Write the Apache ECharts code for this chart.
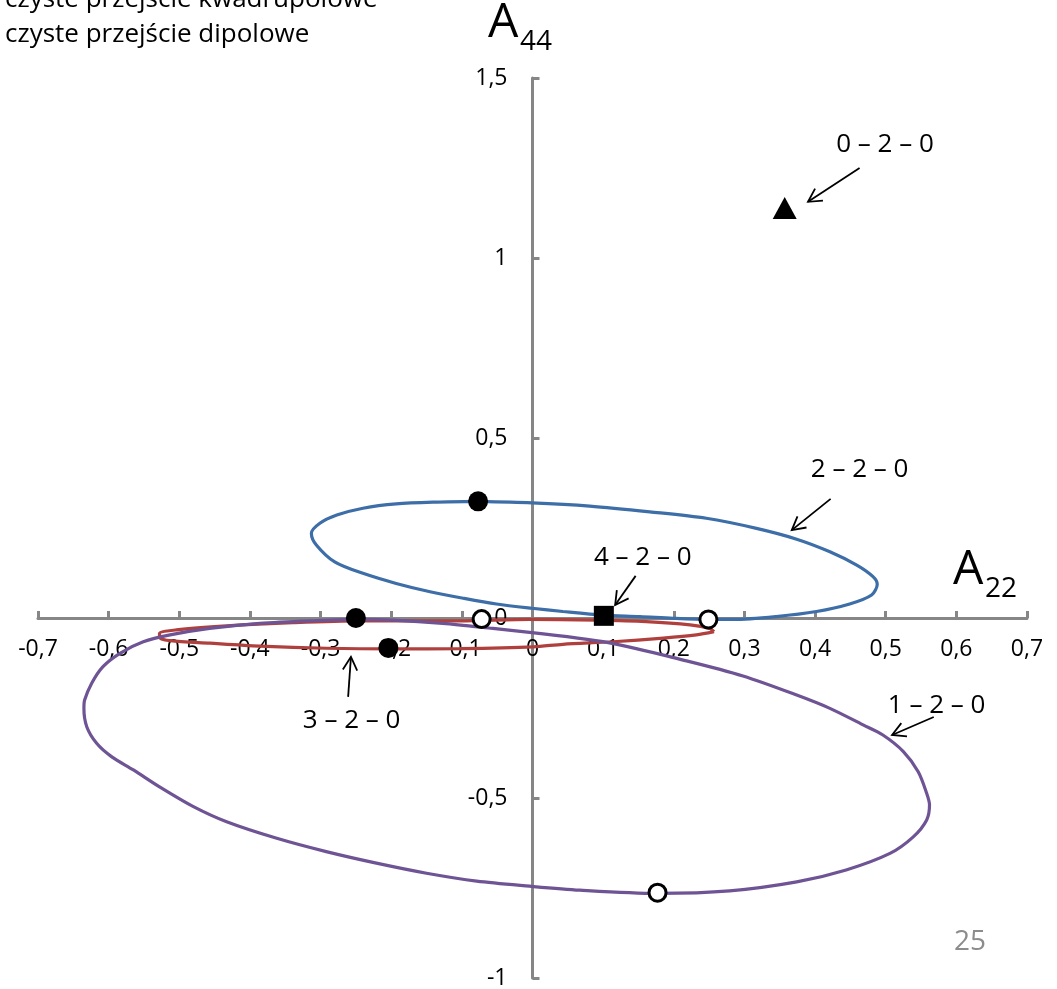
<!DOCTYPE html>
<html><head><meta charset="utf-8">
<script src="https://cdn.jsdelivr.net/npm/echarts@6/dist/echarts.min.js"></script>
<style>html,body{margin:0;padding:0;background:#fff}#c{width:1057px;height:989px}</style>
</head><body><div id="c"></div>
<script>
// ---- data ----
const xTickLabels = ['-0,7','-0,6','-0,5','-0,4','-0,3','-0,2','-0,1','0','0,1','0,2','0,3','0,4','0,5','0,6','0,7'];
const yTickLabels = ['-1','-0,5','0','0,5','1','1,5'];

const loop220 = [[-0.077,0.324],[-0.136,0.322],[-0.193,0.317],[-0.240,0.305],[-0.277,0.286],[-0.301,0.263],[-0.313,0.235],[-0.306,0.203],[-0.280,0.156],[-0.240,0.124],[-0.193,0.096],[-0.145,0.073],[-0.098,0.055],[-0.051,0.039],[-0.001,0.027],[0.043,0.018],[0.100,0.008],[0.152,0.004],[0.199,-0.001],[0.249,-0.004],[0.284,-0.004],[0.345,0.004],[0.402,0.018],[0.449,0.039],[0.480,0.064],[0.488,0.094],[0.482,0.115],[0.459,0.147],[0.421,0.184],[0.374,0.219],[0.317,0.249],[0.246,0.277],[0.166,0.295],[0.081,0.311],[-0.001,0.320],[-0.077,0.324]];

const loop320 = [[0.257,-0.038],[0.251,-0.029],[0.223,-0.019],[0.161,-0.010],[0.091,-0.006],[-0.004,-0.004],[-0.103,-0.008],[-0.244,-0.008],[-0.339,-0.013],[-0.433,-0.022],[-0.504,-0.033],[-0.528,-0.043],[-0.528,-0.054],[-0.513,-0.063],[-0.457,-0.070],[-0.386,-0.078],[-0.292,-0.084],[-0.197,-0.086],[-0.103,-0.085],[0.001,-0.080],[0.043,-0.073],[0.114,-0.066],[0.185,-0.056],[0.232,-0.047],[0.257,-0.038]];

const loop120 = [[-0.004,-0.040],[-0.056,-0.029],[-0.127,-0.015],[-0.197,-0.006],[-0.244,-0.004],[-0.315,-0.008],[-0.386,-0.015],[-0.457,-0.029],[-0.513,-0.047],[-0.551,-0.066],[-0.584,-0.098],[-0.608,-0.135],[-0.624,-0.181],[-0.634,-0.228],[-0.635,-0.251],[-0.631,-0.302],[-0.617,-0.348],[-0.596,-0.385],[-0.565,-0.422],[-0.528,-0.469],[-0.480,-0.524],[-0.433,-0.566],[-0.362,-0.612],[-0.292,-0.649],[-0.221,-0.681],[-0.150,-0.709],[-0.079,-0.731],[-0.004,-0.745],[0.067,-0.756],[0.177,-0.765],[0.279,-0.758],[0.374,-0.733],[0.444,-0.700],[0.506,-0.654],[0.539,-0.608],[0.558,-0.561],[0.562,-0.519],[0.558,-0.487],[0.546,-0.427],[0.525,-0.371],[0.496,-0.325],[0.468,-0.297],[0.421,-0.251],[0.374,-0.214],[0.298,-0.161],[0.218,-0.119],[0.109,-0.069],[-0.004,-0.040]];

const filledCircles = [[-0.077,0.324],[-0.250,0.000],[-0.204,-0.083]];
const openCircles = [[-0.072,-0.003],[0.249,-0.004],[0.177,-0.763]];
const squares = [[0.101,0.006]];
const triangles = [[0.357,1.139]];

const annotLabels = ['0 – 2 – 0','2 – 2 – 0','4 – 2 – 0','1 – 2 – 0','3 – 2 – 0'];
const annotTextPos = [[0.499,1.314],[0.463,0.411],[0.156,0.167],[0.572,-0.242],[-0.256,-0.286]];
const annotFrom = [[0.463,1.250],[0.422,0.331],[0.146,0.117],[0.568,-0.275],[-0.261,-0.219]];
const annotTo = [[0.390,1.156],[0.367,0.244],[0.117,0.036],[0.509,-0.325],[-0.257,-0.108]];

const legendLines = ['czyste przejście kwadrupolowe','czyste przejście dipolowe'];
const pageNumber = '25';

// ---- chart ----
const FONT = "'Open Sans', sans-serif";
const AXIS_COLOR = '#868686';
const GRID = {left:38, right:30, top:78, bottom:11};
const X_MIN = -0.7, X_MAX = 0.7, Y_MIN = -1, Y_MAX = 1.5;
const W = 1057, H = 989;
const gridW = W - GRID.left - GRID.right, gridH = H - GRID.top - GRID.bottom;
// shift axes so that they cross at the origin (like Excel)
const xAxisOffset = -gridH * (0 - Y_MIN) / (Y_MAX - Y_MIN);
const yAxisOffset = -gridW * (0 - X_MIN) / (X_MAX - X_MIN);

function tickFmt(labels, min, step){
  return function(v){ const i = Math.round((v - min) / step); return labels[i] !== undefined ? labels[i] : ''; };
}
const chart = echarts.init(document.getElementById('c'), null, {renderer:'canvas'});

function arrowRender(params, api){
  const i = params.dataIndex;
  const t = api.coord(annotTextPos[i]);
  const a = api.coord(annotFrom[i]);
  const b = api.coord(annotTo[i]);
  const dx = a[0]-b[0], dy = a[1]-b[1];
  const L = Math.hypot(dx,dy) || 1;
  const ux = dx/L, uy = dy/L;
  const ang = 0.5, len = 15;
  const r1 = [b[0] + len*(ux*Math.cos(ang) - uy*Math.sin(ang)), b[1] + len*(ux*Math.sin(ang) + uy*Math.cos(ang))];
  const r2 = [b[0] + len*(ux*Math.cos(-ang) - uy*Math.sin(-ang)), b[1] + len*(ux*Math.sin(-ang) + uy*Math.cos(-ang))];
  return {type:'group', children:[
    {type:'text', style:{text:annotLabels[i], x:t[0], y:t[1], align:'center', verticalAlign:'middle', fontSize:26, fontFamily:FONT, fill:'#000'}},
    {type:'line', shape:{x1:a[0],y1:a[1],x2:b[0],y2:b[1]}, style:{stroke:'#000', lineWidth:1.8}},
    {type:'polyline', shape:{points:[r1,b,r2]}, style:{stroke:'#000', lineWidth:1.8, fill:null}}
  ]};
}

const lineCommon = {type:'line', showSymbol:false, symbol:'none', smooth:0.3, z:2, silent:true};

chart.setOption({
  animation:false,
  backgroundColor:'#fff',
  grid:Object.assign({containLabel:false, outerBoundsMode:'none'}, GRID),
  xAxis:{
    type:'value', min:X_MIN, max:X_MAX, interval:0.1, position:'bottom', offset:xAxisOffset,
    axisLine:{show:true, onZero:false, lineStyle:{color:AXIS_COLOR, width:3}},
    axisTick:{show:true, inside:true, length:7, lineStyle:{color:AXIS_COLOR, width:3}},
    axisLabel:{margin:20, fontSize:23, fontFamily:FONT, color:'#000', formatter:tickFmt(xTickLabels,X_MIN,0.1)},
    splitLine:{show:false}
  },
  yAxis:{
    type:'value', min:Y_MIN, max:Y_MAX, interval:0.5, position:'left', offset:yAxisOffset,
    axisLine:{show:true, onZero:false, lineStyle:{color:AXIS_COLOR, width:3}},
    axisTick:{show:true, inside:true, length:7, lineStyle:{color:AXIS_COLOR, width:3}},
    axisLabel:{margin:25, fontSize:23, fontFamily:FONT, color:'#000', formatter:tickFmt(yTickLabels,Y_MIN,0.5)},
    splitLine:{show:false}
  },
  series:[
    Object.assign({}, lineCommon, {name:'3-2-0', data:loop320, lineStyle:{color:'#b0403d', width:3.2}}),
    Object.assign({}, lineCommon, {name:'2-2-0', data:loop220, lineStyle:{color:'#3d6ea7', width:3.2}}),
    Object.assign({}, lineCommon, {name:'1-2-0', data:loop120, lineStyle:{color:'#6e5494', width:3.2}}),
    {type:'scatter', data:filledCircles, symbol:'circle', symbolSize:20, itemStyle:{color:'#000', opacity:1}, z:4, silent:true},
    {type:'scatter', data:openCircles, symbol:'circle', symbolSize:17, itemStyle:{color:'#fff', borderColor:'#000', borderWidth:3, opacity:1}, z:4, silent:true},
    {type:'scatter', data:squares, symbol:'rect', symbolSize:20, itemStyle:{color:'#000', opacity:1}, z:4, silent:true},
    {type:'scatter', data:triangles, symbol:'triangle', symbolSize:[24,22], itemStyle:{color:'#000', opacity:1}, z:4, silent:true},
    {type:'custom', data:annotTextPos, renderItem:arrowRender, clip:false, z:5, silent:true}
  ],
  graphic:[
    {type:'text', x:5, y:0, style:{text:legendLines[0], fontSize:26, fontFamily:FONT, fill:'#000', verticalAlign:'middle'}},
    {type:'text', x:5, y:35, style:{text:legendLines[1], fontSize:26, fontFamily:FONT, fill:'#000', verticalAlign:'middle'}},
    {type:'text', x:488, y:23, style:{text:'A', fontSize:48, fontFamily:FONT, fill:'#000', verticalAlign:'middle'}},
    {type:'text', x:520, y:42, style:{text:'44', fontSize:28, fontFamily:FONT, fill:'#000', verticalAlign:'middle'}},
    {type:'text', x:953, y:570, style:{text:'A', fontSize:48, fontFamily:FONT, fill:'#000', verticalAlign:'middle'}},
    {type:'text', x:985, y:589, style:{text:'22', fontSize:28, fontFamily:FONT, fill:'#000', verticalAlign:'middle'}},
    {type:'text', x:970, y:942, style:{text:pageNumber, fontSize:28, fontFamily:FONT, fill:'#8c8c8c', align:'center', verticalAlign:'middle'}}
  ]
});
</script></body></html>
